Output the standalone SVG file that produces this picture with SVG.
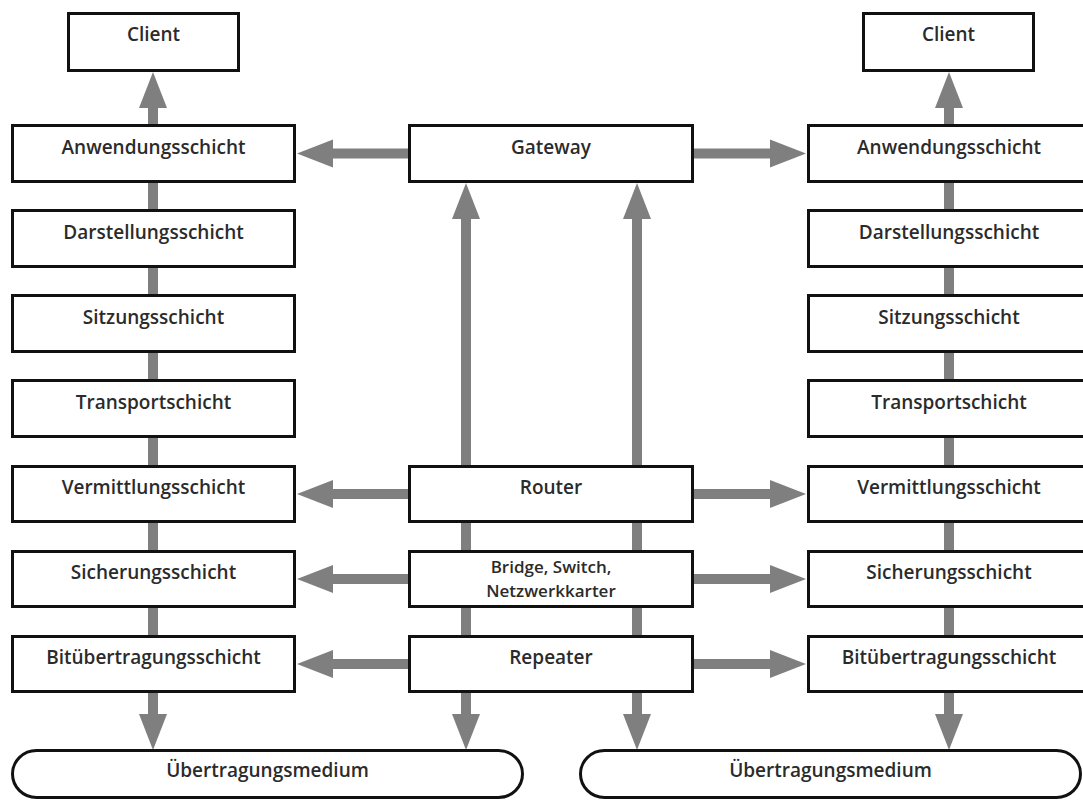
<svg xmlns="http://www.w3.org/2000/svg" width="1083" height="803" viewBox="0 0 1083 803">
<style>
.box{fill:#fff;stroke:#111;stroke-width:3}
.conn{stroke:#7f7f7f;stroke-width:10;fill:none}
.t{font-family:"Open Sans","Liberation Sans",sans-serif;font-size:19px;font-weight:600;fill:#2b2b2b;text-anchor:middle}
.t2{font-size:17px}
</style>
<defs>
<marker id="ah" markerUnits="userSpaceOnUse" markerWidth="37" markerHeight="28" refX="0" refY="14" orient="auto-start-reverse" overflow="visible">
<path d="M0,0 L36,14 L0,28 Z" fill="#7f7f7f"/>
</marker>
</defs>
<rect width="1083" height="803" fill="#fff"/>
<g id="connectors">
<line class="conn" x1="153" y1="108" x2="153" y2="714" marker-start="url(#ah)" marker-end="url(#ah)"/>
<line class="conn" x1="949" y1="108" x2="949" y2="714" marker-start="url(#ah)" marker-end="url(#ah)"/>
<line class="conn" x1="466" y1="219" x2="466" y2="714" marker-start="url(#ah)" marker-end="url(#ah)"/>
<line class="conn" x1="637" y1="219" x2="637" y2="714" marker-start="url(#ah)" marker-end="url(#ah)"/>
<line class="conn" x1="409" y1="153.5" x2="333" y2="153.5" marker-end="url(#ah)"/>
<line class="conn" x1="693" y1="153.5" x2="770" y2="153.5" marker-end="url(#ah)"/>
<line class="conn" x1="409" y1="494" x2="333" y2="494" marker-end="url(#ah)"/>
<line class="conn" x1="693" y1="494" x2="770" y2="494" marker-end="url(#ah)"/>
<line class="conn" x1="409" y1="579" x2="333" y2="579" marker-end="url(#ah)"/>
<line class="conn" x1="693" y1="579" x2="770" y2="579" marker-end="url(#ah)"/>
<line class="conn" x1="409" y1="664" x2="333" y2="664" marker-end="url(#ah)"/>
<line class="conn" x1="693" y1="664" x2="770" y2="664" marker-end="url(#ah)"/>
</g>
<g id="client-left"><rect class="box" x="68.5" y="13.5" width="170" height="57"/><text class="t" x="153.5" y="41">Client</text></g>
<g id="client-right"><rect class="box" x="863.5" y="13.5" width="170" height="57"/><text class="t" x="948.5" y="41">Client</text></g>

<g id="l-anwendung"><rect class="box" x="12.5" y="125.5" width="282" height="56"/><text class="t" x="153.5" y="154">Anwendungsschicht</text></g>
<g id="l-darstellung"><rect class="box" x="12.5" y="210.5" width="282" height="56"/><text class="t" x="153.5" y="239">Darstellungsschicht</text></g>
<g id="l-sitzung"><rect class="box" x="12.5" y="295.5" width="282" height="56"/><text class="t" x="153.5" y="324">Sitzungsschicht</text></g>
<g id="l-transport"><rect class="box" x="12.5" y="380.5" width="282" height="56"/><text class="t" x="153.5" y="409">Transportschicht</text></g>
<g id="l-vermittlung"><rect class="box" x="12.5" y="466.5" width="282" height="55"/><text class="t" x="153.5" y="494">Vermittlungsschicht</text></g>
<g id="l-sicherung"><rect class="box" x="12.5" y="551.5" width="282" height="55"/><text class="t" x="153.5" y="579">Sicherungsschicht</text></g>
<g id="l-bit"><rect class="box" x="12.5" y="636.5" width="282" height="55"/><text class="t" x="153.5" y="664">Bitübertragungsschicht</text></g>

<g id="gateway"><rect class="box" x="409.5" y="125.5" width="283" height="56"/><text class="t" x="551" y="154">Gateway</text></g>
<g id="router"><rect class="box" x="409.5" y="466.5" width="283" height="55"/><text class="t" x="551" y="494">Router</text></g>
<g id="bridge"><rect class="box" x="409.5" y="551.5" width="283" height="55"/><text class="t t2" x="551" y="573">Bridge, Switch,</text><text class="t t2" x="551" y="597">Netzwerkkarter</text></g>
<g id="repeater"><rect class="box" x="409.5" y="636.5" width="283" height="55"/><text class="t" x="551" y="664">Repeater</text></g>

<g id="r-anwendung"><rect class="box" x="808.5" y="125.5" width="283" height="56"/><text class="t" x="949" y="154">Anwendungsschicht</text></g>
<g id="r-darstellung"><rect class="box" x="808.5" y="210.5" width="283" height="56"/><text class="t" x="949" y="239">Darstellungsschicht</text></g>
<g id="r-sitzung"><rect class="box" x="808.5" y="295.5" width="283" height="56"/><text class="t" x="949" y="324">Sitzungsschicht</text></g>
<g id="r-transport"><rect class="box" x="808.5" y="380.5" width="283" height="56"/><text class="t" x="949" y="409">Transportschicht</text></g>
<g id="r-vermittlung"><rect class="box" x="808.5" y="466.5" width="283" height="55"/><text class="t" x="949" y="494">Vermittlungsschicht</text></g>
<g id="r-sicherung"><rect class="box" x="808.5" y="551.5" width="283" height="55"/><text class="t" x="949" y="579">Sicherungsschicht</text></g>
<g id="r-bit"><rect class="box" x="808.5" y="636.5" width="283" height="55"/><text class="t" x="949" y="664">Bitübertragungsschicht</text></g>

<g id="medium-left"><rect class="box" x="12.5" y="750.5" width="510" height="47" rx="24"/><text class="t" x="267.5" y="777">Übertragungsmedium</text></g>
<g id="medium-right"><rect class="box" x="580.5" y="750.5" width="500" height="47" rx="24"/><text class="t" x="830.5" y="777">Übertragungsmedium</text></g>
</svg>
